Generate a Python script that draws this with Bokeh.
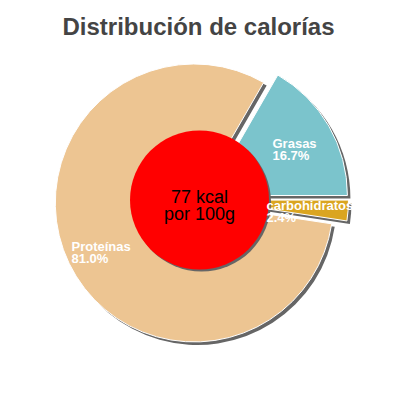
import math
from bokeh.plotting import figure
from bokeh.models import Range1d
from bokeh.embed import file_html
from bokeh.resources import INLINE
from bokeh.core.properties import value

# Data
labels = ["carbohidratos", "Grasas", "Proteínas"]
percents = [2.4, 16.7, 81.0]
colors = ["#daa520", "#7bc4cc", "#edc592"]
center_lines = ["77 kcal", "por 100g"]
title_text = "Distribución de calorías"

W = H = 384

def sx(X):
    return X

def sy(Y):
    return 384 - Y

p = figure(width=W, height=H, output_backend="svg", toolbar_location=None,
           x_range=Range1d(0, W), y_range=Range1d(0, H),
           x_axis_location=None, y_axis_location=None, min_border=0)
p.grid.visible = False
p.outline_line_color = None
p.background_fill_color = "white"

cx, cy = sx(201), sy(199)
R = 139
offset = 8
total = sum(percents)
start = -percents[0] / total * 360.0

wedges = []
a = start
for lab, pct, col in zip(labels, percents, colors):
    span = pct / total * 360.0
    s, e = a, a + span
    mid = math.radians((s + e) / 2)
    wx = cx + offset * math.cos(mid)
    wy = cy + offset * math.sin(mid)
    wedges.append((wx, wy, s, e, col))
    a = e

# shadows
for wx, wy, s, e, col in wedges:
    p.wedge(x=wx + 3, y=wy - 3, radius=R, start_angle=s, end_angle=e,
            start_angle_units="deg", end_angle_units="deg",
            fill_color="#666666", line_color=None)
for wx, wy, s, e, col in wedges:
    p.wedge(x=wx, y=wy, radius=R, start_angle=s, end_angle=e,
            start_angle_units="deg", end_angle_units="deg",
            fill_color=col, line_color="white", line_width=1)

# center circle
rcx, rcy, rr = sx(199), sy(199.5), 69.5
p.circle(x=rcx + 2, y=rcy - 2, radius=rr, fill_color="#666666", line_color=None)
p.circle(x=rcx, y=rcy, radius=rr, fill_color="#ff0000", line_color=None)

font = value("Liberation Sans")
p.text(x=[rcx, rcx], y=[sy(196), sy(213)], text=center_lines,
       text_font=font, text_font_size="18px", text_color="black",
       text_align="center", text_baseline="alphabetic")

# slice labels
lab_pos = {"Grasas": (272, 143), "carbohidratos": (266, 205), "Proteínas": (71, 246)}
for lab, pct in zip(labels, percents):
    X, Y = lab_pos[lab]
    p.text(x=[sx(X), sx(X)], y=[sy(Y), sy(Y + 11.5)], text=[lab, f"{pct:.1f}%"],
           text_font=font, text_font_size="13px", text_font_style="bold",
           text_color="white", text_align="left", text_baseline="alphabetic")

p.text(x=[sx(198)], y=[sy(26)], text=[title_text], text_font=font,
       text_font_size="24px", text_font_style="bold", text_color="#444444",
       text_align="center", text_baseline="alphabetic")

open("out.html", "w").write(file_html(p, INLINE))
